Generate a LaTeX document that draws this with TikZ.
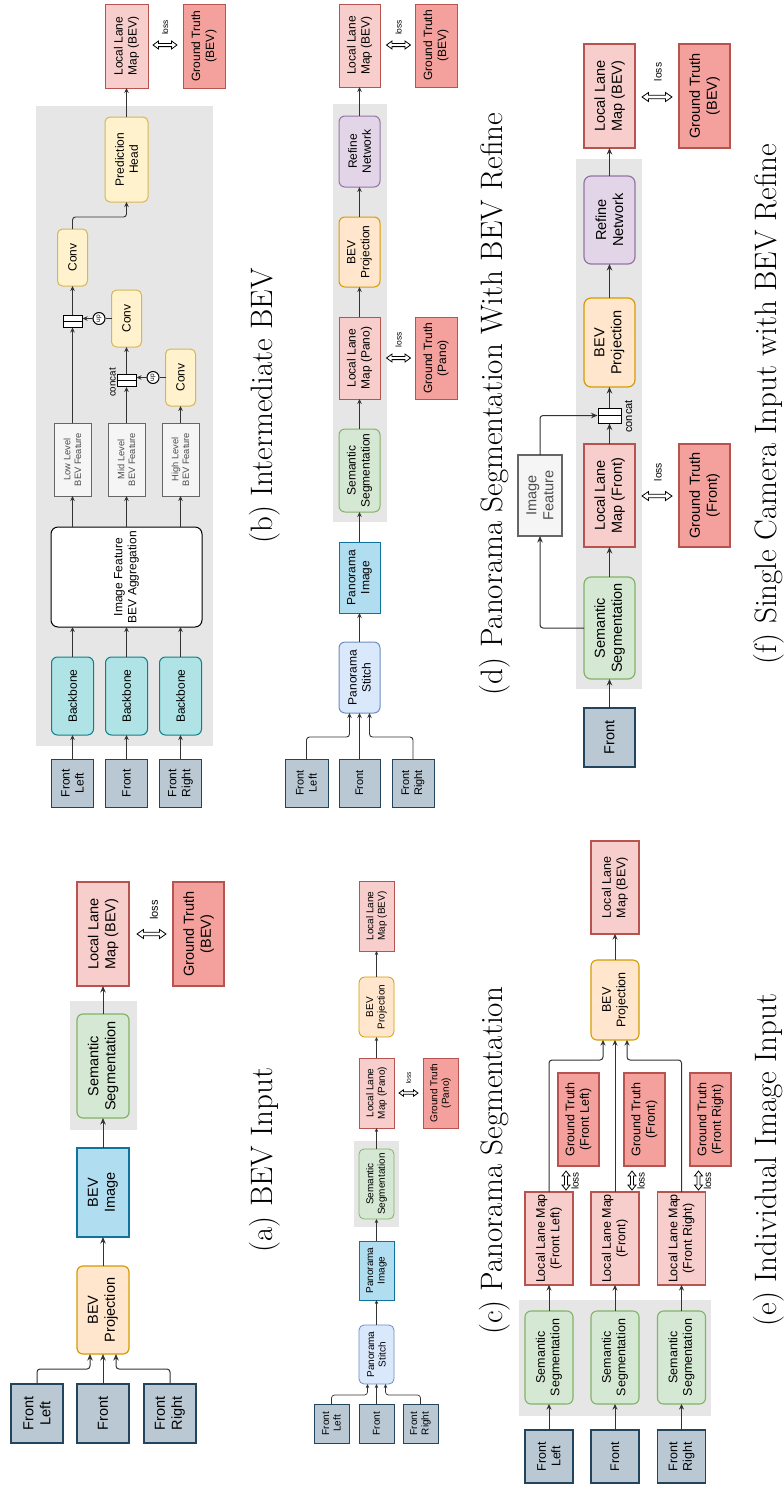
\documentclass[tikz,border=0pt]{standalone}
\usepackage{fontspec}
\newfontfamily\arialf{Liberation Sans}
\usetikzlibrary{arrows.meta,calc}
\newcommand{\myfs}[2]{\arialf\fontsize{#1}{#2}\selectfont}
% hollow double arrow: centre x, centre y, half length, half head width, head length, half shaft width, rotation
\newcommand{\lossarrow}[7]{\draw[lossshape,shift={(#1,#2)},rotate=#7] (-#3,0) -- (-#3+#5,-#4) -- (-#3+#5,-#6) -- (#3-#5,-#6) -- (#3-#5,-#4) -- (#3,0) -- (#3-#5,#4) -- (#3-#5,#6) -- (-#3+#5,#6) -- (-#3+#5,#4) -- cycle;}
\definecolor{frF}{HTML}{BAC8D3}\definecolor{frD}{HTML}{23445D}
\definecolor{bbF}{HTML}{B0E3E6}\definecolor{bbD}{HTML}{0E8088}
\definecolor{ftF}{HTML}{F5F5F5}\definecolor{ftD}{HTML}{666666}\definecolor{ftT}{HTML}{4D4D4D}
\definecolor{yF}{HTML}{FFF2CC}\definecolor{yD}{HTML}{D6B656}
\definecolor{lF}{HTML}{F8CECC}\definecolor{lD}{HTML}{B85450}
\definecolor{gF}{HTML}{F4A19D}
\definecolor{sF}{HTML}{D5E8D4}\definecolor{sD}{HTML}{82B366}
\definecolor{iF}{HTML}{B1DDF0}\definecolor{iD}{HTML}{10739E}
\definecolor{pF}{HTML}{FFE6CC}\definecolor{pD}{HTML}{D79B00}
\definecolor{rF}{HTML}{E1D5E7}\definecolor{rD}{HTML}{9673A6}
\definecolor{stF}{HTML}{DAE8FC}\definecolor{stD}{HTML}{6C8EBF}
\definecolor{bgG}{HTML}{E6E6E6}
\definecolor{lnC}{HTML}{333333}
\begin{document}
\begin{tikzpicture}[x=1pt,y=-1pt,
 bx/.style={rotate=90, draw, align=center, inner sep=1pt, outer sep=0pt, text=black},
 frontbox/.style={bx, fill=frF, draw=frD},
 bbbox/.style={bx, fill=bbF, draw=bbD, rounded corners=6pt},
 featbox/.style={bx, fill=ftF, draw=ftD, text=ftT},
 convbox/.style={bx, fill=yF, draw=yD, rounded corners=5pt},
 llmbox/.style={bx, fill=lF, draw=lD},
 gtbox/.style={bx, fill=gF, draw=lD},
 ssbox/.style={bx, fill=sF, draw=sD, rounded corners=6pt},
 imgbox/.style={bx, fill=iF, draw=iD},
 projbox/.style={bx, fill=pF, draw=pD, rounded corners=6pt},
 refbox/.style={bx, fill=rF, draw=rD, rounded corners=6pt},
 stitchbox/.style={bx, fill=stF, draw=stD, rounded corners=6pt},
 aggbox/.style={bx, fill=white, draw=black, rounded corners=7pt},
 catbox/.style={draw=black, fill=white, inner sep=0pt, minimum width=19pt, minimum height=12pt},
 upnode/.style={circle, draw=black, fill=white, inner sep=0pt, minimum size=12pt, rotate=90},
 lbl/.style={rotate=90, inner sep=0pt},
 captxt/.style={rotate=90, inner sep=0pt, font=\fontsize{31}{36}\selectfont},
 lossshape/.style={draw=black, fill=white, line width=0.8pt, line join=miter},
 con/.style={draw=lnC, rounded corners=3pt},
 arr/.style={con, -{Stealth[length=5pt,width=4.5pt]}},
]
\useasboundingbox[fill=white] (0,0) rectangle (784,1489);

% ================= (b) Intermediate BEV =================
\begin{scope}[line width=1pt, font=\myfs{12}{14}, arr/.style={con,line width=0.9pt,-{Stealth[length=5pt,width=4.5pt]}}]
\fill[bgG] (36,106) rectangle (213,746);
\node[llmbox, minimum width=84pt, minimum height=43pt] (b_llm) at (126.5,46) {Local Lane\\Map (BEV)};
\node[gtbox, minimum width=84pt, minimum height=42pt] (b_gt) at (204,46) {Ground Truth\\(BEV)};
\lossarrow{165}{45}{12}{4}{5.5}{1.6}{0}
\node[lbl, font=\myfs{8.4}{9}] (b_lossl) at (165,27.5) {loss};
\node[convbox, minimum width=85pt, minimum height=43pt] (b_ph) at (126.5,159.5) {Prediction\\Head};
\node[convbox, minimum width=57pt, minimum height=30pt] (b_c1) at (72.5,257.5) {Conv};
\node[convbox, minimum width=57pt, minimum height=30pt] (b_c2) at (126.5,318.5) {Conv};
\node[convbox, minimum width=57pt, minimum height=30pt] (b_c3) at (180.5,377.5) {Conv};
\node[catbox] (b_cat1) at (72.5,321) {};
\node[catbox] (b_cat2) at (126.5,380.5) {};
\draw (b_cat1.west) -- (b_cat1.east);
\draw (b_cat2.west) -- (b_cat2.east);
\node[upnode, font=\myfs{6.5}{7}] (b_up1) at (99,318.5) {up};
\node[upnode, font=\myfs{6.5}{7}] (b_up2) at (153,377.5) {up};
\node[lbl, font=\myfs{9.8}{11}] (b_catl) at (112.5,382.5) {concat};
\node[featbox, font=\myfs{9.3}{10.7}, minimum width=73pt, minimum height=37pt] (b_low) at (72.5,459.5) {Low Level\\BEV Feature};
\node[featbox, font=\myfs{9.3}{10.7}, minimum width=73pt, minimum height=37pt] (b_mid) at (126.5,459.5) {Mid Level\\BEV Feature};
\node[featbox, font=\myfs{9.3}{10.7}, minimum width=73pt, minimum height=37pt] (b_high) at (180.5,459.5) {High Level\\BEV Feature};
\node[aggbox, minimum width=100pt, minimum height=151pt] (b_agg) at (126.5,577) {Image Feature\\BEV Aggregation};
\node[bbbox, minimum width=78pt, minimum height=42pt] (b_bb1) at (72.5,696) {Backbone};
\node[bbbox, minimum width=78pt, minimum height=42pt] (b_bb2) at (126.5,696) {Backbone};
\node[bbbox, minimum width=78pt, minimum height=42pt] (b_bb3) at (180.5,696) {Backbone};
\node[frontbox, minimum width=48pt, minimum height=42pt] (b_f1) at (72.5,783) {Front\\Left};
\node[frontbox, minimum width=48pt, minimum height=42pt] (b_f2) at (126.5,783) {Front};
\node[frontbox, minimum width=48pt, minimum height=42pt] (b_f3) at (180.5,783) {Front\\Right};
\foreach \i in {1,2,3} {
  \draw[arr] (b_f\i) -- (b_bb\i);
  \draw[arr] (b_bb\i) -- (b_bb\i |- b_agg.west);
}
\draw[arr] (b_agg.east -| b_low) -- (b_low);
\draw[arr] (b_agg.east -| b_mid) -- (b_mid);
\draw[arr] (b_agg.east -| b_high) -- (b_high);
\draw[arr] (b_low) -- (b_cat1);
\draw[arr] (b_mid) -- (b_cat2);
\draw[arr] (b_high) -- (b_c3);
\draw[con, line width=0.9pt] (b_c3.north) -- (b_up2);
\draw[arr] (b_up2) -- (b_up2 -| b_cat2.east);
\draw[arr] (b_cat2) -- (b_c2);
\draw[con, line width=0.9pt] (b_c2.north) -- (b_up1);
\draw[arr] (b_up1) -- (b_up1 -| b_cat1.east);
\draw[arr] (b_cat1) -- (b_c1);
\draw[arr] (b_c1.east) -- ++(0,-12) -| (b_ph.west);
\draw[arr] (b_ph) -- (b_llm);
\end{scope}

% ================= (a) BEV Input =================
\begin{scope}[line width=1.2pt, font=\myfs{14.5}{17}, arr/.style={con,line width=1pt,-{Stealth[length=6.5pt,width=5.5pt]}}]
\fill[bgG] (70,1001) rectangle (137,1130);
\node[llmbox, minimum width=104pt, minimum height=52pt] (a_llm) at (103,934) {Local Lane\\Map (BEV)};
\node[gtbox, minimum width=104pt, minimum height=51pt] (a_gt) at (198.5,934) {Ground Truth\\(BEV)};
\lossarrow{151.5}{934}{14.5}{4.5}{6.5}{1.8}{0}
\node[lbl, font=\myfs{11}{12}] (a_lossl) at (154,910) {loss};
\node[ssbox, minimum width=104pt, minimum height=52pt] (a_ss) at (103,1066) {Semantic\\Segmentation};
\node[imgbox, minimum width=89pt, minimum height=52pt] (a_img) at (103,1192.5) {BEV\\Image};
\node[projbox, minimum width=88pt, minimum height=52pt] (a_bp) at (103,1310) {BEV\\Projection};
\node[frontbox, minimum width=59pt, minimum height=52pt] (a_f1) at (37,1413.5) {Front\\Left};
\node[frontbox, minimum width=59pt, minimum height=52pt] (a_f2) at (103,1413.5) {Front};
\node[frontbox, minimum width=59pt, minimum height=52pt] (a_f3) at (170,1413.5) {Front\\Right};
\draw[arr] (a_f1.east) -- ++(0,-15) -| ($(a_bp.west)+(-13,0)$);
\draw[arr] (a_f2) -- (a_bp);
\draw[arr] (a_f3.east) -- ++(0,-15) -| ($(a_bp.west)+(13,0)$);
\draw[arr] (a_bp) -- (a_img);
\draw[arr] (a_img) -- (a_ss);
\draw[arr] (a_ss) -- (a_llm);
\end{scope}

% ================= (c) Panorama Segmentation =================
\begin{scope}[line width=0.8pt, font=\myfs{10}{11.5}, arr/.style={con,line width=0.7pt,-{Stealth[length=4pt,width=3.6pt]}}]
\fill[bgG] (354,1141) rectangle (399,1227);
\node[llmbox, minimum width=70pt, minimum height=35pt] (c_llmb) at (376.5,916) {Local Lane\\Map (BEV)};
\node[projbox, minimum width=60pt, minimum height=35pt] (c_bp) at (376.5,1007) {BEV\\Projection};
\node[llmbox, minimum width=70pt, minimum height=35pt] (c_llm) at (376.5,1093) {Local Lane\\Map (Pano)};
\node[gtbox, minimum width=70pt, minimum height=35pt] (c_gt) at (440.5,1093) {Ground Truth\\(Pano)};
\lossarrow{408.5}{1093}{9.5}{3.2}{4.5}{1.2}{0}
\node[lbl, font=\myfs{6.6}{7}] (c_lossl) at (408.5,1078) {loss};
\node[ssbox, rounded corners=5pt, minimum width=70pt, minimum height=35pt] (c_ss) at (376.5,1184) {Semantic\\Segmentation};
\node[imgbox, minimum width=59pt, minimum height=35pt] (c_pi) at (376.5,1270.5) {Panorama\\Image};
\node[stitchbox, rounded corners=5pt, minimum width=59pt, minimum height=35pt] (c_ps) at (376.5,1354.5) {Panorama\\Stitch};
\node[frontbox, minimum width=39pt, minimum height=35pt] (c_f1) at (331.5,1423.5) {Front\\Left};
\node[frontbox, minimum width=39pt, minimum height=35pt] (c_f2) at (376.5,1423.5) {Front};
\node[frontbox, minimum width=39pt, minimum height=35pt] (c_f3) at (420.5,1423.5) {Front\\Right};
\draw[arr] (c_f1.east) -- ++(0,-9) -| ($(c_ps.west)+(-9,0)$);
\draw[arr] (c_f2) -- (c_ps);
\draw[arr] (c_f3.east) -- ++(0,-9) -| ($(c_ps.west)+(9,0)$);
\draw[arr] (c_ps) -- (c_pi);
\draw[arr] (c_pi) -- (c_ss);
\draw[arr] (c_ss) -- (c_llm);
\draw[arr] (c_llm) -- (c_bp);
\draw[arr] (c_bp) -- (c_llmb);
\end{scope}

% ================= (d) Panorama Segmentation With BEV Refine =================
\begin{scope}[line width=1pt, font=\myfs{12}{14}, arr/.style={con,line width=0.9pt,-{Stealth[length=5pt,width=4.5pt]}}]
\fill[bgG] (333,104) rectangle (387,522);
\node[llmbox, minimum width=83pt, minimum height=41pt] (d_llmb) at (359.5,45.5) {Local Lane\\Map (BEV)};
\node[gtbox, minimum width=83pt, minimum height=42pt] (d_gtb) at (436,45.5) {Ground Truth\\(BEV)};
\lossarrow{398.5}{45}{12}{4}{5.5}{1.6}{0}
\node[lbl, font=\myfs{8.4}{9}] (d_lossl1) at (398.5,27.5) {loss};
\node[refbox, minimum width=71pt, minimum height=41pt] (d_rn) at (359.5,151.5) {Refine\\Network};
\node[projbox, minimum width=70pt, minimum height=41pt] (d_bp) at (359.5,252) {BEV\\Projection};
\node[llmbox, minimum width=82pt, minimum height=41pt] (d_llm) at (359.5,358) {Local Lane\\Map (Pano)};
\node[gtbox, minimum width=82pt, minimum height=42pt] (d_gt) at (436,358) {Ground Truth\\(Pano)};
\lossarrow{398.5}{358}{12}{4}{5.5}{1.6}{0}
\node[lbl, font=\myfs{8.4}{9}] (d_lossl2) at (398.5,340) {loss};
\node[ssbox, minimum width=83pt, minimum height=41pt] (d_ss) at (359.5,470.5) {Semantic\\Segmentation};
\node[imgbox, minimum width=71pt, minimum height=41pt] (d_pi) at (359.5,577.5) {Panorama\\Image};
\node[stitchbox, minimum width=71pt, minimum height=41pt] (d_ps) at (359.5,677.5) {Panorama\\Stitch};
\node[frontbox, font=\myfs{11}{13}, minimum width=48pt, minimum height=43pt] (d_f1) at (306.5,783) {Front\\Left};
\node[frontbox, font=\myfs{11}{13}, minimum width=48pt, minimum height=41pt] (d_f2) at (359.5,783) {Front};
\node[frontbox, font=\myfs{11}{13}, minimum width=48pt, minimum height=42pt] (d_f3) at (413,783) {Front\\Right};
\draw[arr] (d_f1.east) -- ++(0,-22) -| ($(d_ps.west)+(-10,0)$);
\draw[arr] (d_f2) -- (d_ps);
\draw[arr] (d_f3.east) -- ++(0,-22) -| ($(d_ps.west)+(10,0)$);
\draw[arr] (d_ps) -- (d_pi);
\draw[arr] (d_pi) -- (d_ss);
\draw[arr] (d_ss) -- (d_llm);
\draw[arr] (d_llm) -- (d_bp);
\draw[arr] (d_bp) -- (d_rn);
\draw[arr] (d_rn) -- (d_llmb);
\end{scope}

% ================= (e) Individual Image Input =================
\begin{scope}[line width=1.1pt, font=\myfs{12.5}{14.5}, arr/.style={con,line width=1pt,-{Stealth[length=5.5pt,width=5pt]}}]
\fill[bgG] (519,1300) rectangle (711,1416);
\node[llmbox, minimum width=93pt, minimum height=48pt] (e_llmb) at (615,887.5) {Local Lane\\Map (BEV)};
\node[projbox, minimum width=80pt, minimum height=48pt] (e_bp) at (615,1000) {BEV\\Projection};
\node[gtbox, minimum width=93pt, minimum height=41pt] (e_gt1) at (578.5,1119.5) {Ground Truth\\(Front Left)};
\node[gtbox, minimum width=93pt, minimum height=41pt] (e_gt2) at (644.5,1119.5) {Ground Truth\\(Front)};
\node[gtbox, minimum width=93pt, minimum height=41pt] (e_gt3) at (710.5,1119.5) {Ground Truth\\(Front Right)};
\node[llmbox, minimum width=93pt, minimum height=48pt] (e_l1) at (549,1238.5) {Local Lane Map\\(Front Left)};
\node[llmbox, minimum width=93pt, minimum height=48pt] (e_l2) at (615,1238.5) {Local Lane Map\\(Front)};
\node[llmbox, minimum width=93pt, minimum height=48pt] (e_l3) at (681.5,1238.5) {Local Lane Map\\(Front Right)};
\lossarrow{566}{1180.5}{9.5}{4}{5}{1.5}{90}
\lossarrow{632}{1180.5}{9.5}{4}{5}{1.5}{90}
\lossarrow{698.5}{1180.5}{9.5}{4}{5}{1.5}{90}
\node[lbl, font=\myfs{10}{11}] (e_lossl1) at (575,1181) {loss};
\node[lbl, font=\myfs{10}{11}] (e_lossl2) at (641,1181) {loss};
\node[lbl, font=\myfs{10}{11}] (e_lossl3) at (707.5,1181) {loss};
\node[ssbox, minimum width=93pt, minimum height=48pt] (e_s1) at (549,1357.5) {Semantic\\Segmentation};
\node[ssbox, minimum width=93pt, minimum height=48pt] (e_s2) at (615,1357.5) {Semantic\\Segmentation};
\node[ssbox, minimum width=93pt, minimum height=48pt] (e_s3) at (681.5,1357.5) {Semantic\\Segmentation};
\node[frontbox, minimum width=53pt, minimum height=48pt] (e_f1) at (549,1456.5) {Front\\Left};
\node[frontbox, minimum width=53pt, minimum height=48pt] (e_f2) at (615,1456.5) {Front};
\node[frontbox, minimum width=53pt, minimum height=48pt] (e_f3) at (681.5,1456.5) {Front\\Right};
\foreach \i in {1,2,3} {
  \draw[arr] (e_f\i) -- (e_s\i);
  \draw[arr] (e_s\i) -- (e_l\i);
}
\draw[arr] (e_l1.east) |- ($(e_bp.west)+(-12,20)$) -- ($(e_bp.west)+(-12,0)$);
\draw[arr] (e_l2) -- (e_bp);
\draw[arr] (e_l3.east) |- ($(e_bp.west)+(12,20)$) -- ($(e_bp.west)+(12,0)$);
\draw[arr] (e_bp) -- (e_llmb);
\end{scope}

% ================= (f) Single Camera Input with BEV Refine =================
\begin{scope}[line width=1.2pt, font=\myfs{14.5}{17}, arr/.style={con,line width=1pt,-{Stealth[length=6.5pt,width=5.5pt]}}]
\fill[bgG] (576,159) rectangle (642,689);
\node[llmbox, minimum width=104pt, minimum height=51pt] (f_llmb) at (609.5,96) {Local Lane\\Map (BEV)};
\node[gtbox, minimum width=104pt, minimum height=51pt] (f_gtb) at (704.5,96) {Ground Truth\\(BEV)};
\lossarrow{657}{97}{15}{4.5}{6.5}{1.8}{0}
\node[lbl, font=\myfs{10.3}{11}] (f_lossl1) at (658,72) {loss};
\node[refbox, rounded corners=7pt, minimum width=88pt, minimum height=51pt] (f_rn) at (609.5,220) {Refine\\Network};
\node[projbox, rounded corners=7pt, minimum width=89pt, minimum height=51pt] (f_bp) at (609.5,342.5) {BEV\\Projection};
\node[catbox, line width=1pt, minimum width=23pt, minimum height=15pt] (f_cat) at (609.5,415.5) {};
\draw[line width=1pt] (f_cat.west) -- (f_cat.east);
\node[lbl, font=\myfs{11}{12}] (f_catl) at (628.5,416.5) {concat};
\node[llmbox, minimum width=103pt, minimum height=51pt] (f_llm) at (609.5,495.5) {Local Lane\\Map (Front)};
\node[gtbox, minimum width=103pt, minimum height=51pt] (f_gt) at (704.5,495.5) {Ground Truth\\(Front)};
\lossarrow{657}{496}{15}{4.5}{6.5}{1.8}{0}
\node[lbl, font=\myfs{10.3}{11}] (f_lossl2) at (658,472) {loss};
\node[featbox, minimum width=81pt, minimum height=44pt] (f_if) at (540,495.5) {Image\\Feature};
\node[ssbox, rounded corners=7pt, minimum width=102pt, minimum height=51pt] (f_ss) at (609.5,628) {Semantic\\Segmentation};
\node[frontbox, minimum width=59pt, minimum height=51pt] (f_front) at (609.5,737.5) {Front};
\draw[arr] (f_front) -- (f_ss);
\draw[arr] (f_ss) -- (f_llm);
\draw[arr] (f_llm) -- (f_cat);
\draw[arr] (f_cat) -- (f_bp);
\draw[arr] (f_bp) -- (f_rn);
\draw[arr] (f_rn) -- (f_llmb);
\draw[arr] (f_ss.north) -| (f_if.west);
\draw[arr] (f_if.east) |- (f_cat.west);
\end{scope}

% ================= captions =================
\node[captxt] (capa) at (265,1160) {(a) BEV Input};
\node[captxt] (capb) at (265,406) {(b) Intermediate BEV};
\node[captxt] (capc) at (495,1161) {(c) Panorama Segmentation};
\node[captxt] (capd) at (495,404) {(d) Panorama Segmentation With BEV Refine};
\node[captxt] (cape) at (769,1160) {(e) Individual Image Input};
\node[captxt] (capf) at (769,404) {(f) Single Camera Input with BEV Refine};
\end{tikzpicture}
\end{document}
